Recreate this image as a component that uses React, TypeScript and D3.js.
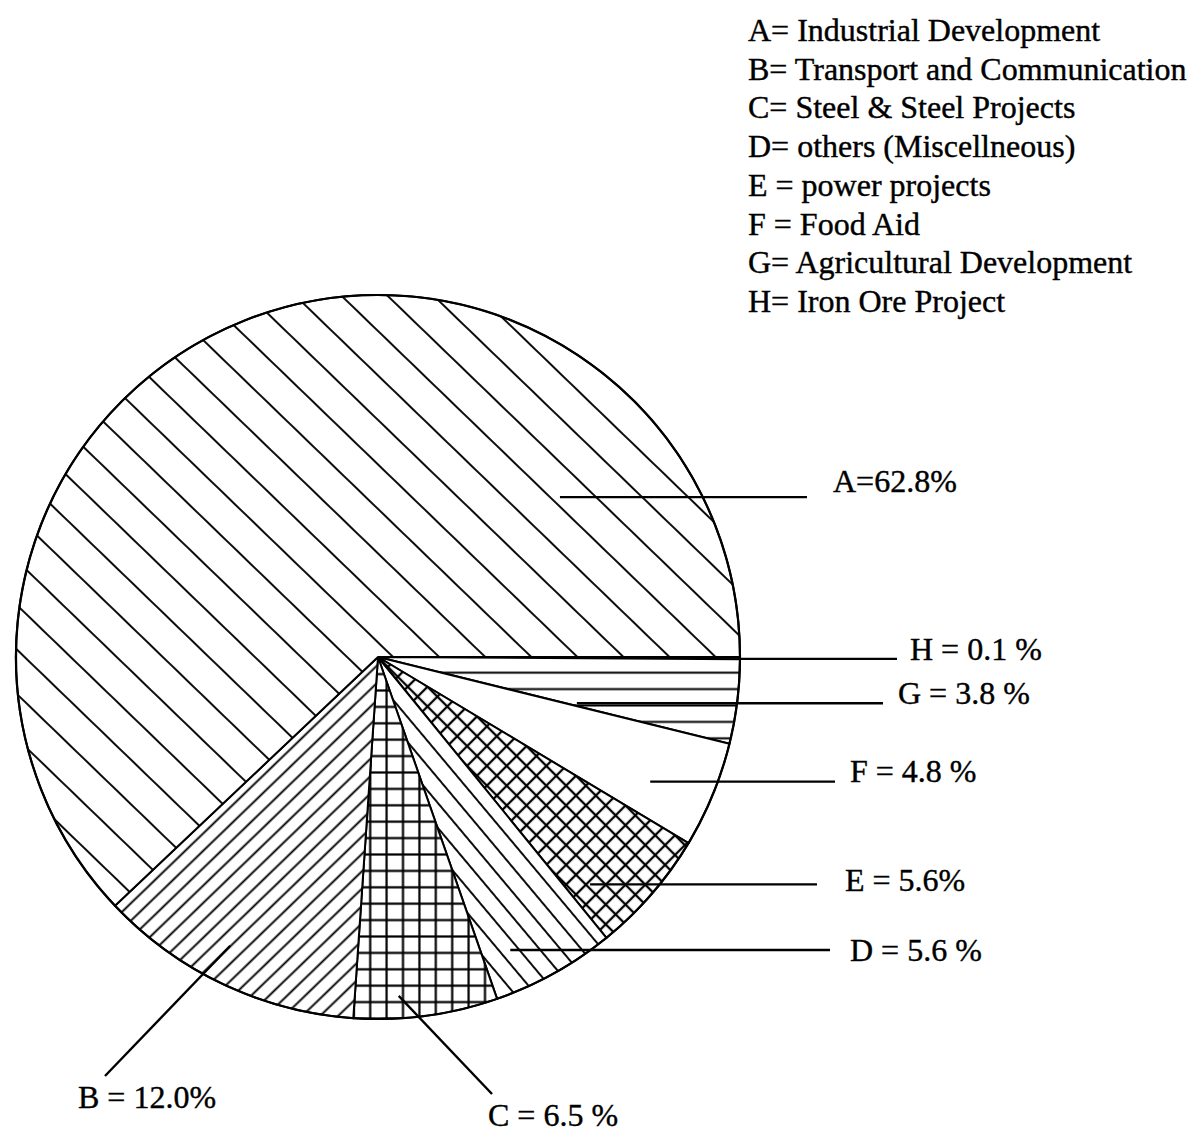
import React from 'react';
import * as d3 from 'd3';

// ---- data ----
const categories = ['H', 'G', 'F', 'E', 'D', 'C', 'B', 'A'];
const values = [0.1, 3.8, 4.8, 5.6, 5.6, 6.5, 12.0, 62.8];
const sliceLabels = ['H = 0.1 %', 'G = 3.8 %', 'F = 4.8 %', 'E = 5.6%', 'D = 5.6 %', 'C = 6.5 %', 'B = 12.0%', 'A=62.8%'];
const legendLines = [
  'A= Industrial Development',
  'B= Transport and Communication',
  'C= Steel & Steel Projects',
  'D= others (Miscellneous)',
  'E = power projects',
  'F = Food Aid',
  'G= Agricultural Development',
  'H= Iron Ore Project',
];

// ---- layout ----
const W = 1198;
const H = 1137;
const CX = 378;
const CY = 657;
const R = 362;
const FONT = '"Liberation Serif", "Times New Roman", serif';
const FS = 32;

// leader anchors in polar terms (deg clockwise from 3 o'clock, fraction of radius)
const labelLayout: Record<string, { ang: number; rf: number; ex: number | null; ey: number | null; tx: number; ty: number }> = {
  H: { ang: 0.3, rf: 1.0, ex: 897, ey: null, tx: 910, ty: 660 },
  G: { ang: 13.1, rf: 0.564, ex: 883, ey: null, tx: 898, ty: 704 },
  F: { ang: 24.6, rf: 0.827, ex: 835, ey: null, tx: 850, ty: 782 },
  E: { ang: 47.0, rf: 0.859, ex: 817, ey: null, tx: 845, ty: 891 },
  D: { ang: 65.7, rf: 0.888, ex: 830, ey: null, tx: 850, ty: 961 },
  C: { ang: 86.5, rf: 0.938, ex: 492, ey: 1094, tx: 488, ty: 1126 },
  B: { ang: 117.1, rf: 0.896, ex: 105, ey: 1076, tx: 78, ty: 1108 },
  A: { ang: -41.3, rf: 0.669, ex: 807, ey: null, tx: 833, ty: 492 },
};

const fills: Record<string, string> = {
  A: 'url(#pA)',
  B: 'url(#pB)',
  C: 'url(#pC)',
  D: 'url(#pD)',
  E: 'url(#pE)',
  F: '#fff',
  G: 'url(#pG)',
  H: 'url(#pH)',
};

function LinePattern({ id, angle, spacing, offset, sw }: { id: string; angle: number; spacing: number; offset: number; sw: number }) {
  return (
    <pattern
      id={id}
      patternUnits="userSpaceOnUse"
      width={20}
      height={spacing}
      y={offset - spacing / 2}
      patternTransform={`rotate(${angle})`}
    >
      <rect width={20} height={spacing} fill="#fff" />
      <line x1={-1} x2={21} y1={spacing / 2} y2={spacing / 2} stroke="#000" strokeWidth={sw} />
    </pattern>
  );
}

function GridPattern({ id, angle, spacing, ox, oy, sw }: { id: string; angle: number; spacing: number; ox: number; oy: number; sw: number }) {
  const h = spacing / 2;
  return (
    <pattern
      id={id}
      patternUnits="userSpaceOnUse"
      width={spacing}
      height={spacing}
      x={ox - h}
      y={oy - h}
      patternTransform={`rotate(${angle})`}
    >
      <rect width={spacing} height={spacing} fill="#fff" />
      <line x1={-1} x2={spacing + 1} y1={h} y2={h} stroke="#000" strokeWidth={sw} />
      <line y1={-1} y2={spacing + 1} x1={h} x2={h} stroke="#000" strokeWidth={sw} />
    </pattern>
  );
}

export default function App() {
  const pie = d3
    .pie<number>()
    .sort(null)
    .value((d) => d)
    .startAngle(Math.PI / 2)
    .endAngle(Math.PI / 2 + 2 * Math.PI);
  const arcs = pie(values);
  const arcGen = d3.arc<d3.PieArcDatum<number>>().innerRadius(0).outerRadius(R);

  const rScale = d3.scaleLinear().domain([0, 1]).range([0, R]);
  const polar = (angDeg: number, rf: number): [number, number] => {
    const a = (angDeg * Math.PI) / 180;
    return [CX + rScale(rf) * Math.cos(a), CY + rScale(rf) * Math.sin(a)];
  };

  return (
    <svg
      width={W}
      height={H}
      viewBox={`0 0 ${W} ${H}`}
      style={{ position: 'absolute', left: 0, top: 0, background: '#fff' }}
    >
      <defs>
        <LinePattern id="pA" angle={44} spacing={32} offset={21.5} sw={1.9} />
        <LinePattern id="pB" angle={-44} spacing={12.5} offset={5.5} sw={1.9} />
        <LinePattern id="pD" angle={50} spacing={16} offset={0} sw={1.9} />
        <LinePattern id="pG" angle={0} spacing={16.4} offset={15.7} sw={2} />
        <GridPattern id="pC" angle={0} spacing={16.4} ox={8.6} oy={0.7} sw={2.2} />
        <GridPattern id="pE" angle={45} spacing={14} ox={0} oy={0} sw={2.3} />
        <pattern id="pH" patternUnits="userSpaceOnUse" width={6} height={6}>
          <rect width={6} height={6} fill="#fff" />
          <circle cx={1.5} cy={1.5} r={0.7} fill="#888" />
          <circle cx={4.5} cy={4.5} r={0.6} fill="#aaa" />
        </pattern>
      </defs>
      <rect x={0} y={0} width={W} height={H} fill="#fff" />

      <g transform={`translate(${CX},${CY})`}>
        {arcs.map((a, i) => (
          <path
            key={categories[i]}
            d={arcGen(a) || ''}
            fill={fills[categories[i]]}
            stroke="#000"
            strokeWidth={2}
            strokeLinejoin="round"
          />
        ))}
        <circle r={R} fill="none" stroke="#000" strokeWidth={2.2} />
      </g>

      {/* leader lines and labels */}
      {categories.map((c, i) => {
        const L = labelLayout[c];
        const [sx, sy] = polar(L.ang, L.rf);
        const ex = L.ex ?? sx;
        const ey = L.ey ?? sy;
        return (
          <g key={'lab' + c}>
            <line x1={sx} y1={sy} x2={ex} y2={ey} stroke="#000" strokeWidth={2.4} />
            <text x={L.tx} y={L.ty} fontFamily={FONT} fontSize={FS} fill="#000" stroke="#000" strokeWidth={0.4}>
              {sliceLabels[i]}
            </text>
          </g>
        );
      })}

      {/* legend */}
      <g>
        {legendLines.map((t, i) => (
          <text key={t} x={748} y={41 + i * 38.7} fontFamily={FONT} fontSize={FS} fill="#000" stroke="#000" strokeWidth={0.4}>
            {t}
          </text>
        ))}
      </g>
    </svg>
  );
}
